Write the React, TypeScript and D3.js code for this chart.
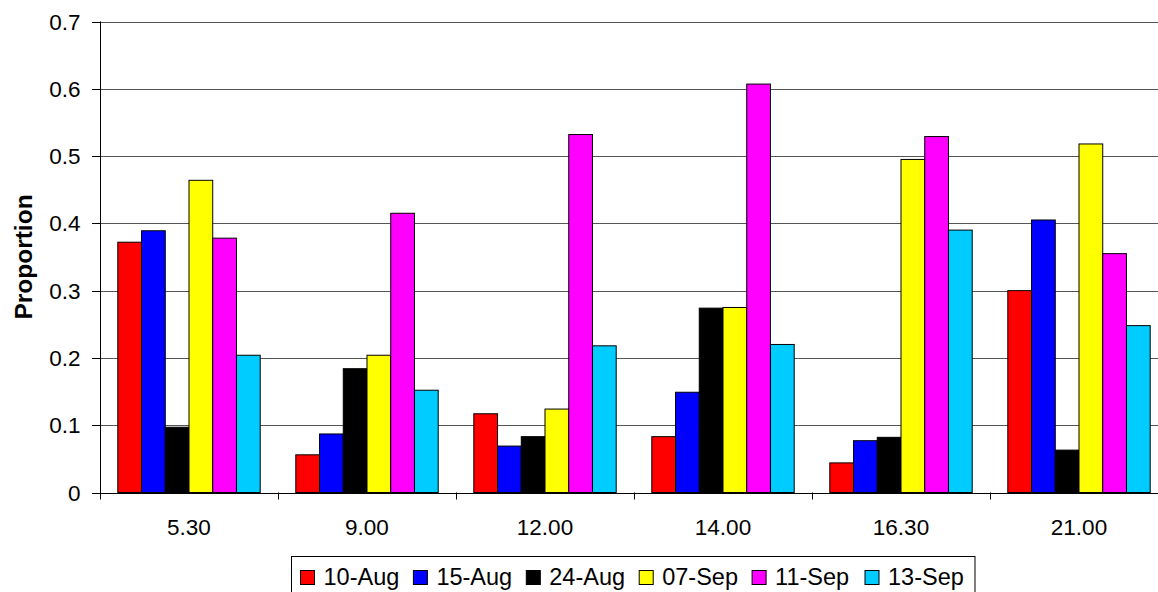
import React, { useEffect, useRef } from "react";
import * as d3 from "d3";

const categories = ["5.30", "9.00", "12.00", "14.00", "16.30", "21.00"];
const seriesNames = ["10-Aug", "15-Aug", "24-Aug", "07-Sep", "11-Sep", "13-Sep"];
const seriesColors = ["#FF0000", "#0000FF", "#000000", "#FFFF00", "#FF00FF", "#00CCFF"];
const aug10 = [0.372, 0.056, 0.117, 0.083, 0.044, 0.300];
const aug15 = [0.389, 0.087, 0.069, 0.149, 0.077, 0.405];
const aug24 = [0.097, 0.184, 0.083, 0.274, 0.082, 0.063];
const sep07 = [0.464, 0.204, 0.124, 0.275, 0.495, 0.518];
const sep11 = [0.378, 0.415, 0.532, 0.607, 0.529, 0.355];
const sep13 = [0.204, 0.152, 0.218, 0.220, 0.390, 0.248];
const seriesValues = [aug10, aug15, aug24, sep07, sep11, sep13];
const yTicks = [0, 0.1, 0.2, 0.3, 0.4, 0.5, 0.6, 0.7];
const yTitle = "Proportion";

const W = 1158;
const H = 592;
const FONT = "Arial, 'Liberation Sans', sans-serif";

export default function App() {
  const ref = useRef<SVGSVGElement>(null);

  useEffect(() => {
    const svg = d3.select(ref.current);
    svg.selectAll("*").remove();

    const left = 100;
    const right = 1168;
    const top = 21.5;
    const bottom = 492.5;

    const x = d3.scaleBand<string>().domain(categories).range([left, right]).paddingInner(0.2).paddingOuter(0.1);
    const xs = d3.scaleBand<string>().domain(seriesNames).range([0, x.bandwidth()]).padding(0);
    const y = d3.scaleLinear().domain([0, 0.7]).range([bottom, top]);

    // gridlines
    svg.append("g")
      .selectAll("line")
      .data(yTicks.filter((t) => t > 0))
      .join("line")
      .attr("x1", left)
      .attr("x2", right)
      .attr("y1", (d) => Math.round(y(d)) + 0.5)
      .attr("y2", (d) => Math.round(y(d)) + 0.5)
      .attr("stroke", "#555")
      .attr("stroke-width", 1);

    // bars
    const groups = svg.append("g")
      .selectAll("g")
      .data(categories)
      .join("g")
      .attr("transform", (c) => `translate(${x(c)},0)`);

    groups.selectAll("rect")
      .data((c) => seriesNames.map((s, si) => ({ s, si, v: seriesValues[si][categories.indexOf(c)] })))
      .join("rect")
      .attr("x", (d) => (xs(d.s) as number))
      .attr("width", xs.bandwidth())
      .attr("y", (d) => y(d.v))
      .attr("height", (d) => y(0) - y(d.v))
      .attr("fill", (d) => seriesColors[d.si])
      .attr("stroke", "#000")
      .attr("stroke-width", 1);

    // y axis
    const ax = svg.append("g");
    ax.append("line")
      .attr("x1", left + 0.5).attr("x2", left + 0.5)
      .attr("y1", top).attr("y2", bottom + 0.5)
      .attr("stroke", "#000");
    ax.selectAll("line.tick")
      .data(yTicks)
      .join("line")
      .attr("class", "tick")
      .attr("x1", left - 8).attr("x2", left)
      .attr("y1", (d) => Math.round(y(d)) + 0.5)
      .attr("y2", (d) => Math.round(y(d)) + 0.5)
      .attr("stroke", "#000");
    ax.selectAll("text")
      .data(yTicks)
      .join("text")
      .attr("x", 80.5)
      .attr("y", (d) => y(d))
      .attr("dy", "0.36em")
      .attr("text-anchor", "end")
      .attr("font-family", FONT)
      .attr("font-size", 22.5)
      .attr("fill", "#000")
      .text((d) => (d === 0 ? "0" : d3.format(".1f")(d)));

    // x axis
    const step = x.step();
    const bounds = categories.map((c) => (x(c) as number) - (step - x.bandwidth()) / 2).concat([right]);
    const xa = svg.append("g");
    xa.append("line")
      .attr("x1", left).attr("x2", right)
      .attr("y1", Math.round(y(0)) + 0.5).attr("y2", Math.round(y(0)) + 0.5)
      .attr("stroke", "#000");
    xa.selectAll("line.tick")
      .data(bounds)
      .join("line")
      .attr("class", "tick")
      .attr("x1", (d) => Math.round(d) + 0.5).attr("x2", (d) => Math.round(d) + 0.5)
      .attr("y1", y(0)).attr("y2", y(0) + 7)
      .attr("stroke", "#000");
    xa.selectAll("text")
      .data(categories)
      .join("text")
      .attr("x", (c) => (x(c) as number) + x.bandwidth() / 2)
      .attr("y", 534.5)
      .attr("text-anchor", "middle")
      .attr("font-family", FONT)
      .attr("font-size", 22.5)
      .attr("fill", "#000")
      .text((c) => c);

    // y title
    svg.append("text")
      .attr("transform", `translate(31.5,${(top + bottom) / 2}) rotate(-90)`)
      .attr("text-anchor", "middle")
      .attr("font-family", FONT)
      .attr("font-size", 24.5)
      .attr("font-weight", "bold")
      .attr("fill", "#000")
      .text(yTitle);

    // legend
    const lg = svg.append("g");
    lg.append("rect")
      .attr("x", 291.5).attr("y", 556.5)
      .attr("width", 683.5).attr("height", 60)
      .attr("fill", "#fff").attr("stroke", "#000");
    const items = lg.selectAll("g.item")
      .data(seriesNames)
      .join("g")
      .attr("class", "item")
      .attr("transform", (d, i) => `translate(${300 + i * 112.9},0)`);
    items.append("rect")
      .attr("x", 0.5).attr("y", 570.5)
      .attr("width", 14).attr("height", 14)
      .attr("fill", (d, i) => seriesColors[i])
      .attr("stroke", "#000");
    items.append("text")
      .attr("x", 23.5).attr("y", 584.5)
      .attr("font-family", FONT)
      .attr("font-size", 23.5)
      .attr("fill", "#000")
      .text((d) => d);
  }, []);

  return (
    <svg
      ref={ref}
      width={W}
      height={H}
      style={{ position: "absolute", left: 0, top: 0, background: "#fff", overflow: "hidden" }}
    />
  );
}
